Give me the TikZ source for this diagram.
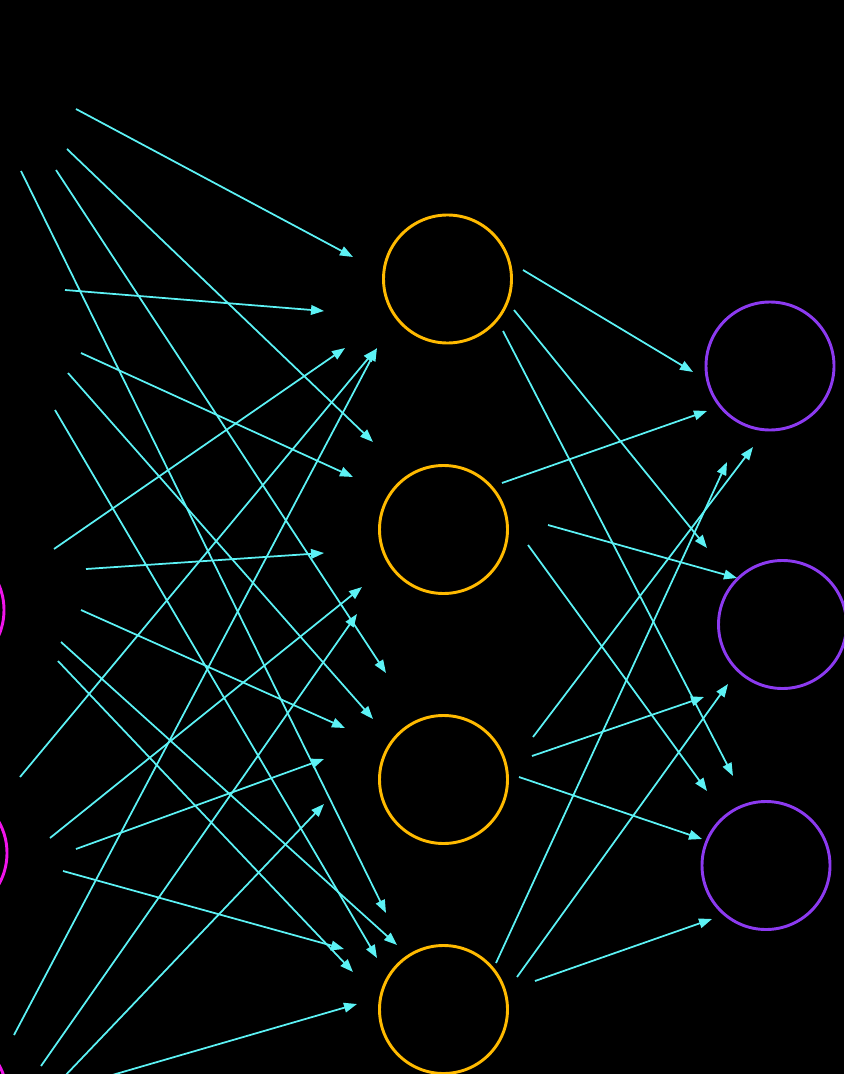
\documentclass[tikz,border=0pt]{standalone}
\usepackage{tikz}
\usetikzlibrary{arrows.meta}

\definecolor{wirecyan}{RGB}{92,242,245}
\definecolor{hiddengold}{RGB}{255,186,0}
\definecolor{outviolet}{RGB}{140,58,240}
\definecolor{inmagenta}{RGB}{240,20,235}

\begin{document}
\begin{tikzpicture}[
            x=0.03cm, y=-0.03cm,
            >={Triangle[length=0.39cm,width=0.29cm]},
            neuron/.style={circle, draw, minimum size=3.84cm, inner sep=0pt, line width=2.5pt},
            wire/.style={->, draw=wirecyan, fill=wirecyan, line width=1.5pt}
        ]

        \fill[black] (0,0) rectangle (844,1074);
        \clip (0,0) rectangle (844,1074);

        %================================================
        % Neurons: input (cut off), hidden, output
        %================================================
        \node[neuron, draw=inmagenta] (I1) at (-60,610) {};
        \node[neuron, draw=inmagenta] (I2) at (-57,853) {};
        \node[neuron, draw=inmagenta] (I3) at (-57,1096) {};

        \node[neuron, draw=hiddengold] (H1) at (447.5,279) {};
        \node[neuron, draw=hiddengold] (H2) at (443.5,529.5) {};
        \node[neuron, draw=hiddengold] (H3) at (443.5,779.5) {};
        \node[neuron, draw=hiddengold] (H4) at (443.5,1009.5) {};

        \node[neuron, draw=outviolet] (O1) at (770,366) {};
        \node[neuron, draw=outviolet] (O2) at (782.5,624.5) {};
        \node[neuron, draw=outviolet] (O3) at (766,865.5) {};

        %================================================
        % Wires into the hidden layer
        %================================================
        \coordinate (a1) at (76,109);    \coordinate (b1) at (353,257);
        \coordinate (a2) at (67,149);    \coordinate (b2) at (373,442);
        \coordinate (a3) at (56,170);    \coordinate (b3) at (386,673);
        \coordinate (a4) at (21,171);    \coordinate (b4) at (386,913);
        \coordinate (a5) at (65,290);    \coordinate (b5) at (324,311);
        \coordinate (a6) at (81,353);    \coordinate (b6) at (353,477);
        \coordinate (a7) at (68,373);    \coordinate (b7) at (373,719);
        \coordinate (a8) at (55,410);    \coordinate (b8) at (377,958);
        \coordinate (a9) at (54,549);    \coordinate (b9) at (345,348);
        \coordinate (a10) at (86,569);   \coordinate (b10) at (324,553);
        \coordinate (a11) at (81,610);   \coordinate (b11) at (345,728);
        \coordinate (a12) at (61,642);   \coordinate (b12) at (397,945);
        \coordinate (a13) at (58,661);   \coordinate (b13) at (353,972);
        \coordinate (a14) at (20,777);   \coordinate (b14) at (376,349);
        \coordinate (a15) at (50,838);   \coordinate (b15) at (362,587);
        \coordinate (a16) at (76,849);   \coordinate (b16) at (324,759);
        \coordinate (a17) at (63,871);   \coordinate (b17) at (344,949);
        \coordinate (a18) at (14,1035);  \coordinate (b18) at (377,348);
        \coordinate (a19) at (41,1066);  \coordinate (b19) at (357,614);
        \coordinate (a20) at (62,1079);  \coordinate (b20) at (324,804);
        \coordinate (a21) at (102,1078); \coordinate (b21) at (357,1004);

        \draw[wire] (a1) -- (b1);
        \draw[wire] (a2) -- (b2);
        \draw[wire] (a3) -- (b3);
        \draw[wire] (a4) -- (b4);
        \draw[wire] (a5) -- (b5);
        \draw[wire] (a6) -- (b6);
        \draw[wire] (a7) -- (b7);
        \draw[wire] (a8) -- (b8);
        \draw[wire] (a9) -- (b9);
        \draw[wire] (a10) -- (b10);
        \draw[wire] (a11) -- (b11);
        \draw[wire] (a12) -- (b12);
        \draw[wire] (a13) -- (b13);
        \draw[wire] (a14) -- (b14);
        \draw[wire] (a15) -- (b15);
        \draw[wire] (a16) -- (b16);
        \draw[wire] (a17) -- (b17);
        \draw[wire] (a18) -- (b18);
        \draw[wire] (a19) -- (b19);
        \draw[wire] (a20) -- (b20);
        \draw[wire] (a21) -- (b21);

        %================================================
        % Wires into the output layer
        %================================================
        \coordinate (c1) at (523,270);   \coordinate (d1) at (693,372);
        \coordinate (c2) at (514,310);   \coordinate (d2) at (707,548);
        \coordinate (c3) at (503,331);   \coordinate (d3) at (733,776);
        \coordinate (c4) at (502,483);   \coordinate (d4) at (707,411);
        \coordinate (c5) at (548,525);   \coordinate (d5) at (737,578);
        \coordinate (c6) at (528,545);   \coordinate (d6) at (707,791);
        \coordinate (c7) at (533,737);   \coordinate (d7) at (753,447);
        \coordinate (c8) at (532,756);   \coordinate (d8) at (704,697);
        \coordinate (c9) at (519,777);   \coordinate (d9) at (702,839);
        \coordinate (c10) at (496,963);  \coordinate (d10) at (727,462);
        \coordinate (c11) at (517,977);  \coordinate (d11) at (728,684);
        \coordinate (c12) at (535,981);  \coordinate (d12) at (712,919);

        \draw[wire] (c1) -- (d1);
        \draw[wire] (c2) -- (d2);
        \draw[wire] (c3) -- (d3);
        \draw[wire] (c4) -- (d4);
        \draw[wire] (c5) -- (d5);
        \draw[wire] (c6) -- (d6);
        \draw[wire] (c7) -- (d7);
        \draw[wire] (c8) -- (d8);
        \draw[wire] (c9) -- (d9);
        \draw[wire] (c10) -- (d10);
        \draw[wire] (c11) -- (d11);
        \draw[wire] (c12) -- (d12);

        \end{tikzpicture}
\end{document}
